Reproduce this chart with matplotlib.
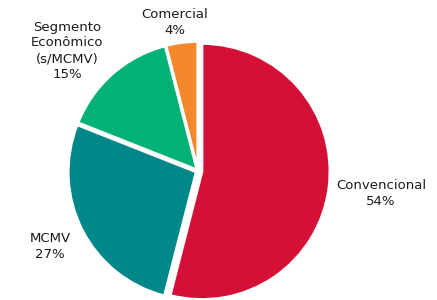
import matplotlib
matplotlib.use("Agg")
import matplotlib.pyplot as plt

categories = ["Convencional", "MCMV", "Segmento\nEconômico\n(s/MCMV)", "Comercial"]
values = [54, 27, 15, 4]
colors = ["#D41036", "#00878A", "#00B274", "#F5882A"]

fig = plt.figure(figsize=(4.37, 3.0), dpi=100)
ax = fig.add_axes([0, 0, 1, 1])

ax.pie(values, colors=colors, startangle=90, counterclock=False,
       center=(198, 129), radius=128, explode=[4, 2, 1.5, 1.5],
       wedgeprops=dict(edgecolor="white", linewidth=2), frame=True)
ax.set_xlim(0, 437)
ax.set_ylim(0, 300)
ax.set_aspect("equal")
ax.axis("off")

label_pos = [(381, 106.5), (50, 53.5), (67, 249), (175, 277.5)]
for (x, y), cat, v in zip(label_pos, categories, values):
    ax.text(x, y, f"{cat}\n{v}%", ha="center", va="center", fontsize=9.5,
            color="#1a1a1a", linespacing=1.3, family="DejaVu Sans")

fig.savefig("out.png", dpi=100)
